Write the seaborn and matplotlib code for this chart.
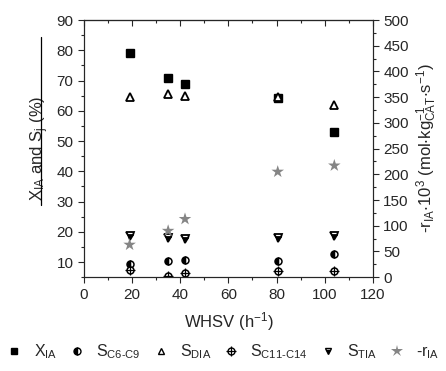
import matplotlib
matplotlib.use("Agg")
import matplotlib.pyplot as plt
from matplotlib.lines import Line2D
from matplotlib.ticker import MultipleLocator
import seaborn as sns
import pandas as pd

sns.set_style("ticks")
plt.rcParams['font.family'] = ['Liberation Sans', 'DejaVu Sans']
plt.rcParams['mathtext.fontset'] = 'custom'
plt.rcParams['mathtext.rm'] = 'Liberation Sans'
plt.rcParams['mathtext.it'] = 'Liberation Sans'
plt.rcParams['mathtext.default'] = 'regular'

whsv = [19, 35, 42, 80.5, 104]
x_ia = [79, 71, 69, 64.2, 53]
s_c6_c9 = [9.5, 10.5, 10.8, 10.5, 12.5]
s_dia = [64.5, 65.5, 65, 64.5, 62]
s_c11_c14 = [7.5, 5.5, 6.5, 7, 7]
s_tia = [18.5, 18, 17.5, 18, 18.5]
r_ia = [63, 90, 113, 205, 217]

df = pd.DataFrame({"whsv": whsv, "x_ia": x_ia, "s_c6_c9": s_c6_c9, "s_dia": s_dia,
                   "s_c11_c14": s_c11_c14, "s_tia": s_tia, "r_ia": r_ia})

fig = plt.figure(figsize=(4.46, 3.71), dpi=100)
ax = fig.add_axes([0.188, 0.253, 0.648, 0.693])
ax2 = ax.twinx()

ms = 5
kw = dict(linestyle='none', markersize=ms, markeredgewidth=1.1)
ax.plot(df.whsv, df.x_ia, marker='s', color='black', linestyle='none',
        markersize=5.5, markeredgewidth=1.0)
ax.plot(df.whsv, df.s_dia, marker='^', color='black', markerfacecolor='white',
        markersize=6, linestyle='none', markeredgewidth=1.3)
ax.plot(df.whsv, df.s_c6_c9, marker='o', color='black', fillstyle='left',
        markerfacecoloralt='white', **kw)
ax.plot(df.whsv, df.s_c11_c14, marker='o', color='black', markerfacecolor='white', **kw)
ax.plot(df.whsv, df.s_c11_c14, marker='+', color='black', linestyle='none',
        markersize=7, markeredgewidth=0.9)
ax.plot(df.whsv, df.s_tia, marker='v', color='black', fillstyle='bottom',
        markerfacecoloralt='white', markersize=6, linestyle='none', markeredgewidth=1.3)
sns.scatterplot(data=df, x="whsv", y="r_ia", ax=ax2, marker='*', color='#858585',
                s=90, edgecolor='none', legend=False, zorder=3)

ax.set_xlim(0, 120)
ax.set_ylim(5, 90)
ax2.set_ylim(0, 500)
ax.xaxis.set_major_locator(MultipleLocator(20))
ax.xaxis.set_minor_locator(MultipleLocator(10))
ax.yaxis.set_major_locator(MultipleLocator(10))
ax.yaxis.set_minor_locator(MultipleLocator(5))
ax2.yaxis.set_major_locator(MultipleLocator(50))
ax2.yaxis.set_minor_locator(MultipleLocator(25))

fs = 11
ax.tick_params(axis='both', which='both', labelsize=fs, direction='out', width=0.8)
ax.tick_params(which='major', length=4)
ax.tick_params(which='minor', length=2.5)
ax2.tick_params(axis='y', which='both', labelsize=fs, direction='out', width=0.8)
ax2.tick_params(which='major', length=4)
ax2.tick_params(which='minor', length=2.5)
ax2.set_xlabel('')

top = ax.secondary_xaxis('top')
top.xaxis.set_major_locator(MultipleLocator(20))
top.xaxis.set_minor_locator(MultipleLocator(10))
top.tick_params(which='both', direction='in', labeltop=False, width=0.8)
top.tick_params(which='major', length=4)
top.tick_params(which='minor', length=2.5)

for a in (ax, ax2):
    for s in a.spines.values():
        s.set_visible(True)
        s.set_linewidth(0.8)

ax.set_xlabel('WHSV (h$^{-1}$)', fontsize=12, labelpad=6)
ax.set_ylabel('X$_{IA}$ and S$_{j}$ (%)', fontsize=12, labelpad=4)
ax2.set_ylabel('-r$_{IA}$$\\cdot$10$^{3}$ (mol$\\cdot$kg$_{CAT}^{-1}$$\\cdot$s$^{-1}$)',
               fontsize=12, labelpad=4)

# stray line above left label
fig.add_artist(Line2D([41/446, 41/446], [1-205/371, 1-37/371], color='black', lw=0.9))

lkw = dict(linestyle='none', markersize=5, markeredgewidth=1.0)
handles = [
    Line2D([], [], marker='s', color='black', **lkw),
    Line2D([], [], marker='o', color='black', fillstyle='left', markerfacecoloralt='white', **lkw),
    Line2D([], [], marker='^', color='black', markerfacecolor='white', **lkw),
    (Line2D([], [], marker='o', color='black', markerfacecolor='white', **lkw),
     Line2D([], [], marker='+', color='black', linestyle='none', markersize=7, markeredgewidth=0.9)),
    Line2D([], [], marker='v', color='black', fillstyle='bottom', markerfacecoloralt='white', **lkw),
    Line2D([], [], marker='*', color='#858585', linestyle='none', markersize=9, markeredgewidth=0),
]
labels = ['X$_{IA}$', 'S$_{C6\\text{-}C9}$', 'S$_{DIA}$', 'S$_{C11\\text{-}C14}$', 'S$_{TIA}$', '-r$_{IA}$']
fig.legend(handles, labels, loc='center', bbox_to_anchor=(0.5, 1-352/371), ncol=6,
           frameon=False, fontsize=11.5, handlelength=1.0, handletextpad=0.7,
           columnspacing=0.75, borderaxespad=0)

fig.savefig('out.png', dpi=100)
